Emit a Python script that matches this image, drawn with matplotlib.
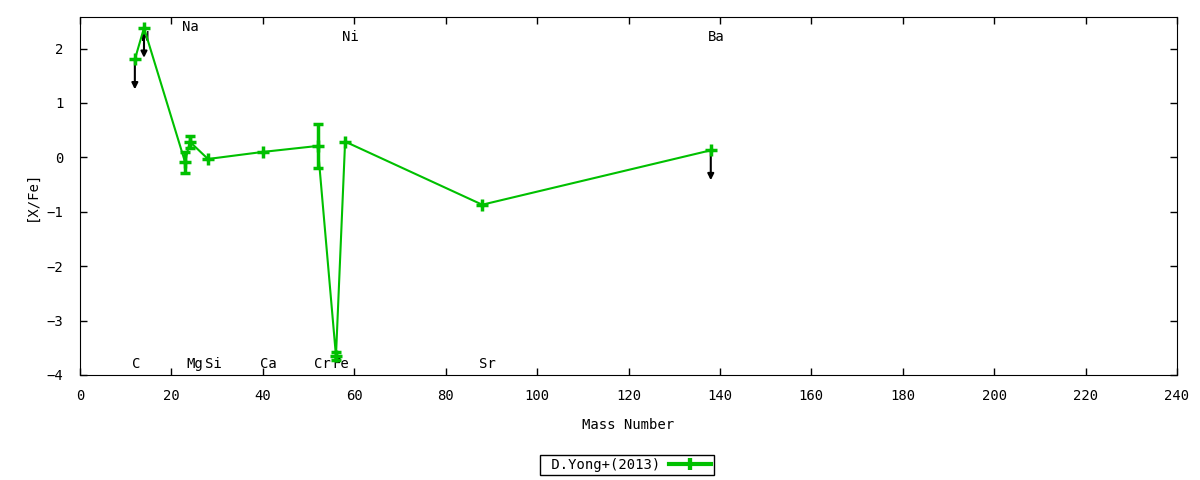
import matplotlib
matplotlib.use('Agg')
import matplotlib.pyplot as plt
from matplotlib.lines import Line2D
from matplotlib.legend_handler import HandlerLine2D, HandlerTuple

# abundance pattern, D.Yong+(2013)
mass = [12, 14, 23, 24, 28, 40, 52, 56, 58, 88, 138]
xfe = [1.80, 2.38, -0.09, 0.29, -0.03, 0.10, 0.21, -3.65, 0.29, -0.87, 0.13]

# points with error bars
err_mass = [23, 24, 52, 56]
err_val = [-0.09, 0.29, 0.21, -3.65]
err_size = [0.19, 0.11, 0.40, 0.08]

# upper limits
lim_mass = [12, 14, 138]
lim_val = [1.80, 2.38, 0.13]

# element labels
el_names = ['C', 'N', 'Na', 'Mg', 'Si', 'Ca', 'Cr', 'Fe', 'Ni', 'Sr', 'Ba']
el_mass = [12, 14, 23, 24, 28, 40, 52, 56, 58, 88, 138]
el_y = [-3.79, 2.21, 2.39, -3.79, -3.79, -3.79, -3.79, -3.79, 2.21, -3.79, 2.21]

green = '#00c000'
plt.rcParams['font.family'] = ['DejaVu Sans Mono']
plt.rcParams['font.size'] = 10

fig = plt.figure(figsize=(12, 4.8), dpi=100)
ax = fig.add_axes([80/1200, 1-375/480, (1177-80)/1200, (375-17)/480])

ax.plot(mass, xfe, color=green, lw=1.5, marker='+', ms=8, mew=2.5, zorder=3)
ax.errorbar(err_mass, err_val, yerr=err_size, fmt='none', ecolor=green,
            elinewidth=2.5, capsize=3.5, capthick=2.5, zorder=3)

for m, v in zip(lim_mass, lim_val):
    ax.annotate('', xy=(m, v - 0.55), xytext=(m, v),
                arrowprops=dict(arrowstyle='-|>', color='k', lw=1.5,
                                mutation_scale=9, shrinkA=0, shrinkB=0),
                zorder=2)

for name, m, y in zip(el_names, el_mass, el_y):
    ax.text(m - 0.7, y, name, ha='left', va='center', zorder=1)

ax.set_xlim(0, 240)
ax.set_ylim(-4, 2.58)
ax.set_xticks(range(0, 241, 20))
ax.set_yticks(range(-4, 3))
ax.tick_params(direction='in', length=5, width=1, top=True, right=True)
ax.tick_params(axis='x', pad=10)
ax.tick_params(axis='y', pad=12)
ax.set_xlabel('Mass Number', labelpad=11)
ax.set_ylabel('[X/Fe]', labelpad=6)

h1 = Line2D([], [], color=green, lw=3, marker='|', ms=8, mew=3)
h2 = Line2D([], [], color=green, ls='none', marker='|', ms=8, mew=3)
leg = fig.legend([(h1, h2)], [' D.Yong+(2013)'],
                 handler_map={h2: HandlerLine2D(numpoints=1), tuple: HandlerTuple(ndivide=1)},
                 loc='center', bbox_to_anchor=(627/1200, 1-465/480), markerfirst=False,
                 fancybox=False, edgecolor='k', framealpha=1, borderpad=0.25,
                 handlelength=3, handletextpad=0.6, borderaxespad=0)
leg.get_frame().set_linewidth(1)

fig.savefig('out.png', dpi=100)
